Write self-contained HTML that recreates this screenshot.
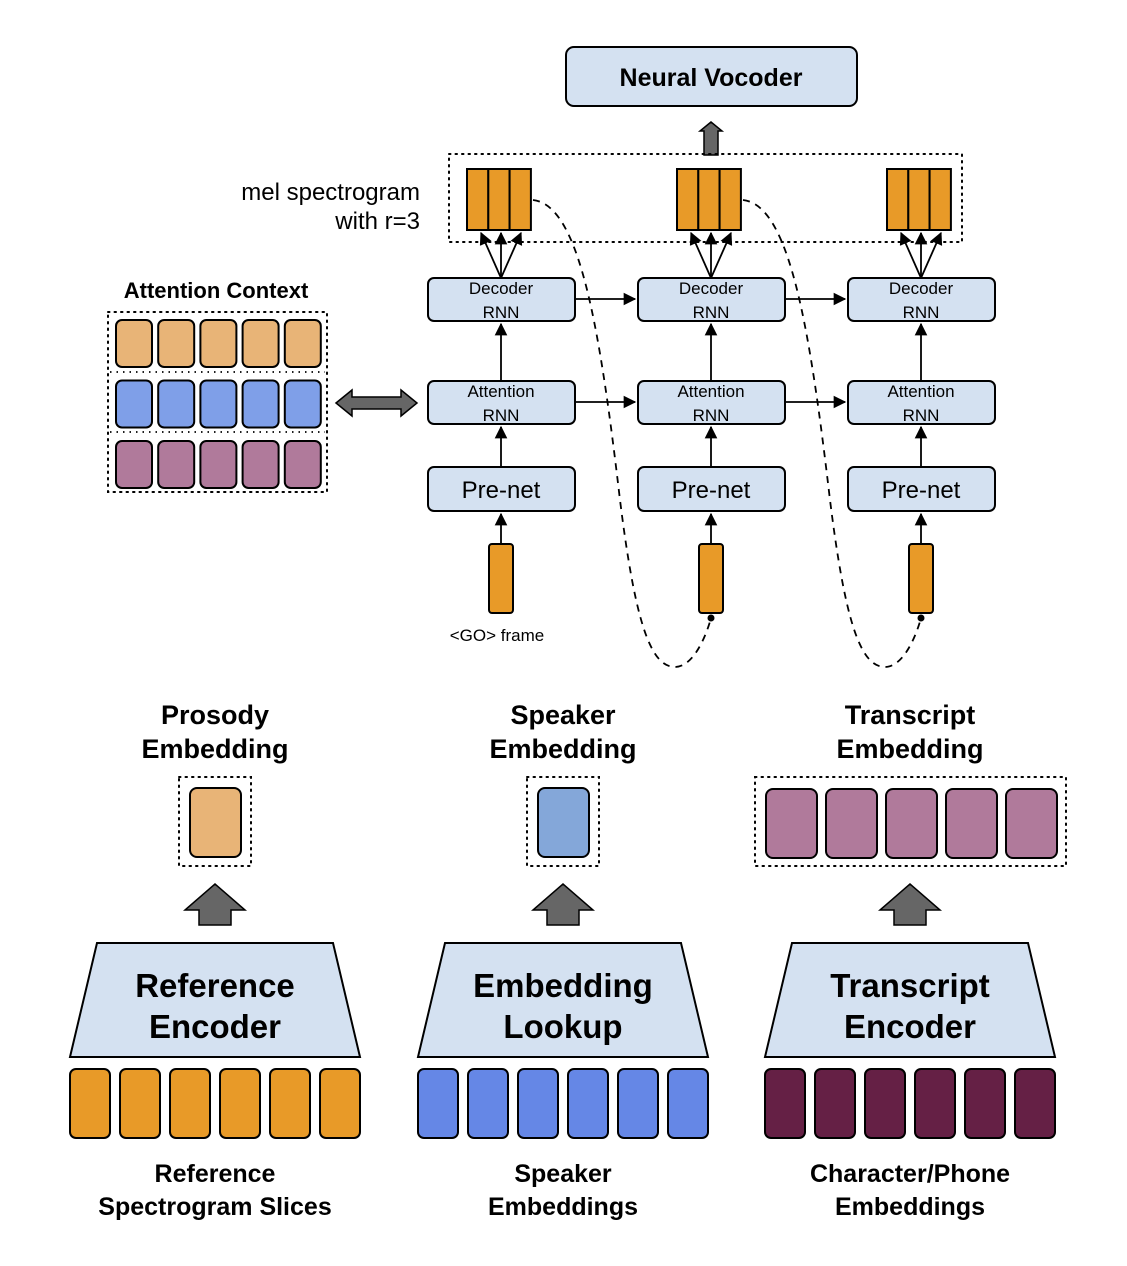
<!DOCTYPE html>
<html><head><meta charset="utf-8"><style>
html,body{margin:0;padding:0;background:#fff}
svg{display:block}
text{font-family:"Liberation Sans",sans-serif;fill:#000}
.b{font-weight:bold}
</style></head><body>
<svg id="s" width="1127" height="1266" viewBox="0 0 1127 1266" xmlns="http://www.w3.org/2000/svg">
<defs>
<marker id="ah" viewBox="0 0 10 10" refX="9" refY="5" markerWidth="7" markerHeight="7" orient="auto-start-reverse"><path d="M0,0 L10,5 L0,10 z" fill="#000"/></marker>
</defs>
<g id="g"></g>
</svg>
<script>
const g=document.getElementById('g');
const NS='http://www.w3.org/2000/svg';
function mk(tag,attrs,name){const e=document.createElementNS(NS,tag);for(const k in attrs)e.setAttribute(k,attrs[k]);


g.appendChild(e);return e;}
function rect(x,y,w,h,fill,name,rx,sw,dash){return mk('rect',{x:x,y:y,width:w,height:h,rx:rx||0,fill:fill||'none',stroke:'#000','stroke-width':sw||2,'stroke-dasharray':dash||'none'},name);}
function txt(x,y,s,size,name,bold,anchor){const t=mk('text',{x:x,y:y,'font-size':size,'text-anchor':anchor||'middle'},name);if(bold)t.setAttribute('class','b');t.textContent=s;return t;}
function line(x1,y1,x2,y2,name,arrow){const l=mk('line',{x1:x1,y1:y1,x2:x2,y2:y2,stroke:'#000','stroke-width':1.8},name);if(arrow)l.setAttribute('marker-end','url(#ah)');return l;}
function dotbox(x,y,w,h,name){return mk('rect',{x:x,y:y,width:w,height:h,fill:'none',stroke:'#000','stroke-width':2,'stroke-dasharray':'1.5 5','stroke-linecap':'round'},name);}
const BL='#d4e1f1';
rect(566,47,291,59,BL,'neural-vocoder-box',8);
txt(711,86,'Neural Vocoder',25,'neural-vocoder-label',true);
mk('path',{d:'M704,155 L704,131 L700,131 L711,122 L722,131 L718,131 L718,155 Z',fill:'#666',stroke:'#000','stroke-width':1.5},'vocoder-arrow');
dotbox(449,154,513,88,'mel-output-box');
txt(420,200,'mel spectrogram',24,'mel-label-line1',false,'end');
txt(420,229,'with r=3',24,'mel-label-line2',false,'end');
const cols=[501,711,921];
cols.forEach((cx,i)=>{
  for(let k=0;k<3;k++) rect(cx-34+k*21.3,169,21.3,61,'#e89a28','mel-frame-'+(i+1)+'-'+(k+1),0,2);
  [-21,0,21].forEach((d,k)=>line(cx,278,cx+d*0.95,233,'decoder-to-mel-arrow',true));
  rect(cx-73,278,147,43,BL,'decoder-rnn-'+(i+1),6);
  txt(cx,294,'Decoder',17,'decoder-label');txt(cx,318,'RNN',17,'decoder-label');
  line(cx,381,cx,324,'attention-to-decoder-arrow',true);
  rect(cx-73,381,147,43,BL,'attention-rnn-'+(i+1),6);
  txt(cx,397,'Attention',17,'attention-label');txt(cx,421,'RNN',17,'attention-label');
  line(cx,467,cx,427,'prenet-to-attention-arrow',true);
  rect(cx-73,467,147,44,BL,'prenet-'+(i+1),6);
  txt(cx,498,'Pre-net',24,'prenet-label');
  line(cx,544,cx,514,'frame-to-prenet-arrow',true);
  rect(cx-12,544,24,69,'#e89a28','input-frame-'+(i+1),3);
  if(i<2){
    line(cx+74,299,cols[i+1]-76,299,'decoder-state-arrow',true);
    line(cx+74,402,cols[i+1]-76,402,'attention-state-arrow',true);
  }
});
txt(497,641,'<GO> frame',17,'go-frame-label');
[0,1].forEach(i=>{const o=i*210;
  mk('path',{d:`M${533+o},200 C${580+o},205 ${600+o},330 ${620+o},500 C${635+o},620 ${650+o},667 ${675+o},667 C${692+o},667 ${705+o},640 ${711+o},618`,fill:'none',stroke:'#000','stroke-width':1.8,'stroke-dasharray':'7 6'},'feedback-dashed-line');
  mk('circle',{cx:711+o,cy:618,r:3.5,fill:'#000'},'feedback-dot');
});
txt(216,298,'Attention Context',22,'attention-context-title',true);
dotbox(108,312,219,180,'attention-context-box');
line(110,372,325,372,'row-sep');g.lastChild.setAttribute('stroke-dasharray','1.5 5');
line(110,432,325,432,'row-sep');g.lastChild.setAttribute('stroke-dasharray','1.5 5');
const ac=['#e8b477','#7f9fe8','#b07a9b'];
ac.forEach((c,r)=>{for(let k=0;k<5;k++)rect(116+k*42.2,320+r*60.5,36,47,c,'context-cell',6);});
mk('path',{d:'M336,403 L352,390 L352,397 L401,397 L401,390 L417,403 L401,416 L401,409 L352,409 L352,416 Z',fill:'#666',stroke:'#000','stroke-width':1.5},'attention-double-arrow');
const groups=[{cx:215,t:['Prosody','Embedding'],enc:['Reference','Encoder'],bot:['Reference','Spectrogram Slices'],emb:'#e8b477',cell:'#e89a28',n:1,name:'prosody'},
{cx:563,t:['Speaker','Embedding'],enc:['Embedding','Lookup'],bot:['Speaker','Embeddings'],emb:'#84a7d9',cell:'#6587e6',n:1,name:'speaker'},
{cx:910,t:['Transcript','Embedding'],enc:['Transcript','Encoder'],bot:['Character/Phone','Embeddings'],emb:'#b07a9b',cell:'#652045',n:5,name:'transcript'}];
groups.forEach(G=>{const cx=G.cx;
  txt(cx,724,G.t[0],27,G.name+'-embedding-title',true);txt(cx,758,G.t[1],27,G.name+'-embedding-title',true);
  if(G.n===1){dotbox(cx-36,777,72,89,G.name+'-embedding-box');rect(cx-25,788,51,69,G.emb,G.name+'-embedding-cell',7);}
  else{dotbox(755,777,311,89,G.name+'-embedding-box');for(let k=0;k<5;k++)rect(766+k*60,789,51,69,G.emb,G.name+'-embedding-cell',7);}
  mk('path',{d:`M${cx-16},925 L${cx-16},910 L${cx-30},910 L${cx},884 L${cx+30},910 L${cx+16},910 L${cx+16},925 Z`,fill:'#666',stroke:'#000','stroke-width':1.5},G.name+'-up-arrow');
  mk('path',{d:`M${cx-118},943 L${cx+118},943 L${cx+145},1057 L${cx-145},1057 Z`,fill:BL,stroke:'#000','stroke-width':2},G.name+'-encoder');
  txt(cx,997,G.enc[0],33,G.name+'-encoder-label',true);txt(cx,1038,G.enc[1],33,G.name+'-encoder-label',true);
  for(let k=0;k<6;k++)rect(cx-145+k*50,1069,40,69,G.cell,G.name+'-input-cell',6);
  txt(cx,1182,G.bot[0],25,G.name+'-input-label',true);txt(cx,1215,G.bot[1],25,G.name+'-input-label',true);
});
</script>
</body></html>
